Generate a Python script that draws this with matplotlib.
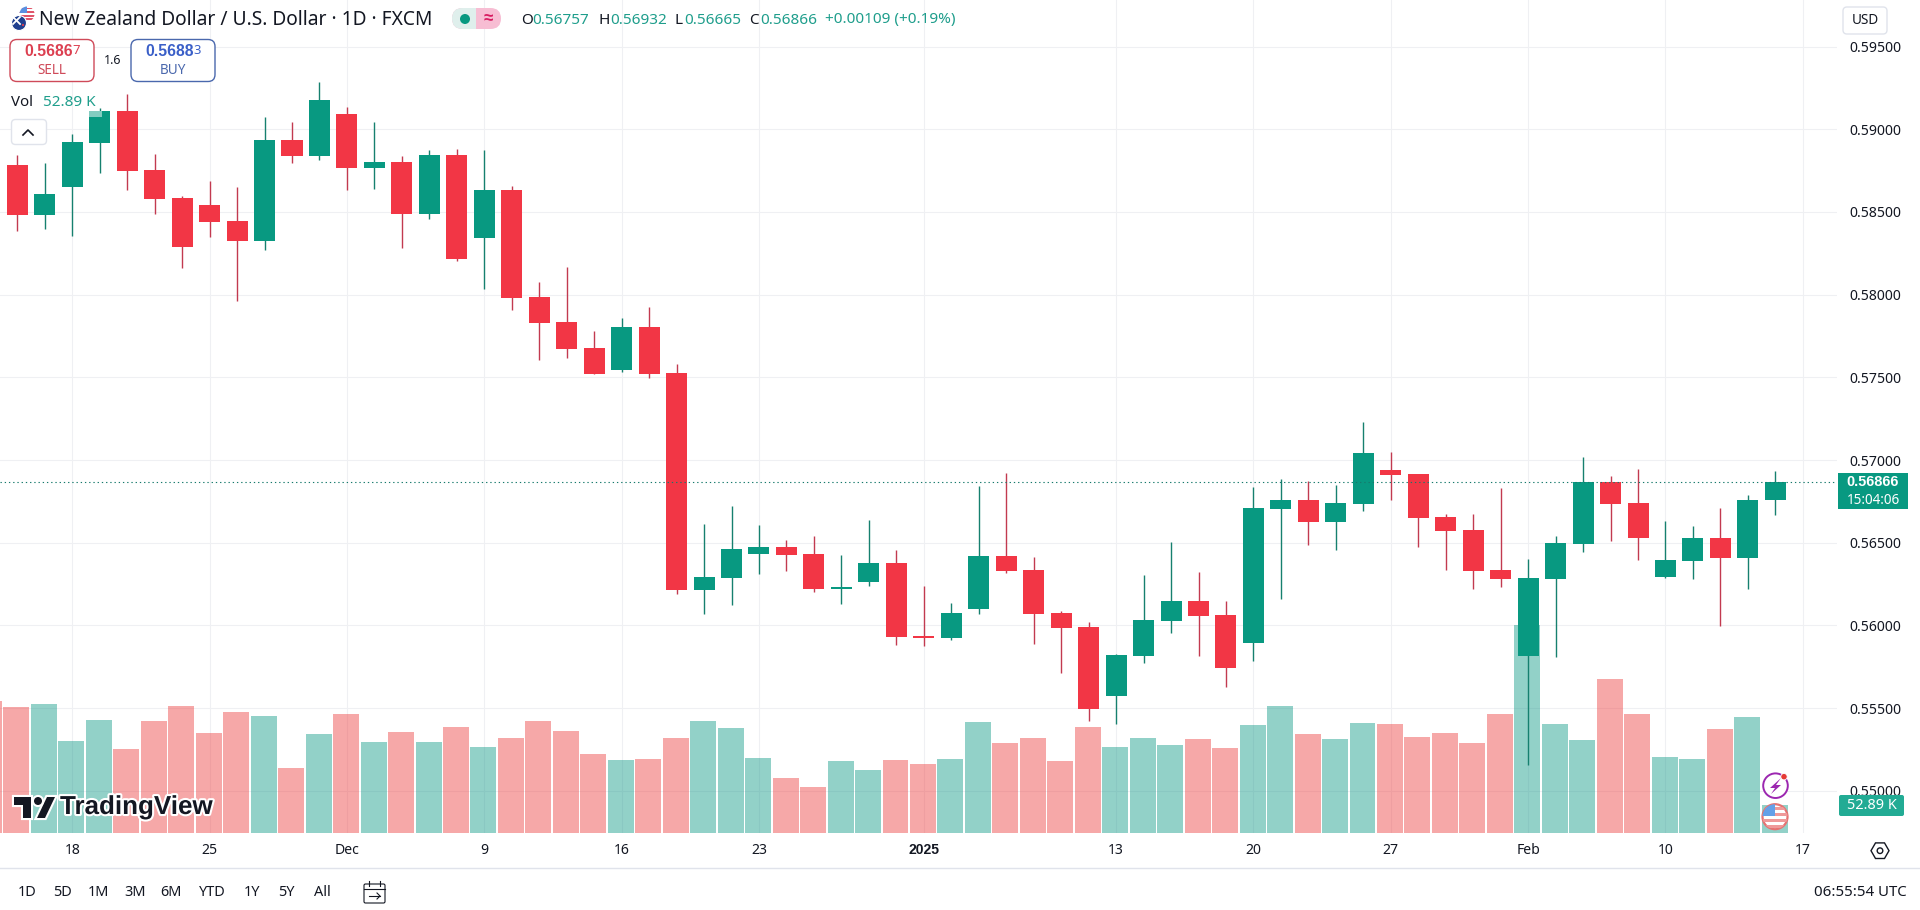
import numpy as np
import matplotlib
matplotlib.use('Agg')
import matplotlib.pyplot as plt
import matplotlib.patheffects as pe
from matplotlib.patches import Circle, FancyBboxPatch, Polygon, Rectangle, RegularPolygon

plt.rcParams['font.family'] = ['Noto Sans', 'DejaVu Sans']

opens = [0.58783, 0.58481, 0.58649, 0.58915, 0.59110, 0.58753, 0.58584, 0.58542, 0.58445, 0.58324,
         0.58934, 0.58837, 0.59092, 0.58765, 0.58801, 0.58487, 0.58843, 0.58342, 0.58631, 0.57986,
         0.57834, 0.57677, 0.57544, 0.57804, 0.57527, 0.56214, 0.56286, 0.56431, 0.56475, 0.56433,
         0.56220, 0.56262, 0.56376, 0.55936, 0.55924, 0.56099, 0.56421, 0.56334, 0.56075, 0.55990,
         0.55574, 0.55815, 0.56027, 0.56147, 0.56063, 0.55893, 0.56704, 0.56758, 0.56625, 0.56734,
         0.56940, 0.56914, 0.56655, 0.56577, 0.56334, 0.55815, 0.56280, 0.56491, 0.56866, 0.56740,
         0.56292, 0.56388, 0.56527, 0.56407, 0.56757]
highs = [0.58843, 0.58795, 0.58970, 0.59126, 0.59213, 0.58849, 0.58596, 0.58687, 0.58649, 0.59074,
         0.59044, 0.59285, 0.59134, 0.59044, 0.58837, 0.58873, 0.58879, 0.58873, 0.58655, 0.58076,
         0.58166, 0.57780, 0.57858, 0.57924, 0.57580, 0.56613, 0.56722, 0.56607, 0.56517, 0.56541,
         0.56425, 0.56637, 0.56457, 0.56238, 0.56135, 0.56842, 0.56922, 0.56414, 0.56087, 0.56021,
         0.55827, 0.56304, 0.56505, 0.56322, 0.56147, 0.56836, 0.56884, 0.56872, 0.56848, 0.57227,
         0.57048, 0.56918, 0.56674, 0.56674, 0.56830, 0.56401, 0.56539, 0.57018, 0.56903, 0.56945,
         0.56629, 0.56601, 0.56710, 0.56788, 0.56932]
lows = [0.58384, 0.58396, 0.58354, 0.58734, 0.58631, 0.58487, 0.58161, 0.58348, 0.57962, 0.58270,
        0.58795, 0.58813, 0.58631, 0.58637, 0.58282, 0.58457, 0.58204, 0.58034, 0.57907, 0.57605,
        0.57617, 0.57518, 0.57532, 0.57496, 0.56190, 0.56068, 0.56122, 0.56310, 0.56328, 0.56202,
        0.56129, 0.56238, 0.55881, 0.55875, 0.55912, 0.56069, 0.56316, 0.55887, 0.55713, 0.55424,
        0.55406, 0.55773, 0.55954, 0.55815, 0.55628, 0.55785, 0.56160, 0.56487, 0.56455, 0.56692,
        0.56758, 0.56475, 0.56334, 0.56222, 0.56232, 0.55157, 0.55809, 0.56443, 0.56509, 0.56395,
        0.56288, 0.56280, 0.55996, 0.56220, 0.56665]
closes = [0.58481, 0.58608, 0.58921, 0.59110, 0.58747, 0.58578, 0.58288, 0.58439, 0.58324, 0.58934,
          0.58837, 0.59176, 0.58765, 0.58801, 0.58487, 0.58843, 0.58216, 0.58631, 0.57980, 0.57828,
          0.57671, 0.57520, 0.57804, 0.57520, 0.56216, 0.56292, 0.56463, 0.56475, 0.56425, 0.56220,
          0.56232, 0.56376, 0.55930, 0.55924, 0.56075, 0.56421, 0.56328, 0.56069, 0.55984, 0.55496,
          0.55821, 0.56033, 0.56147, 0.56057, 0.55743, 0.56710, 0.56758, 0.56625, 0.56740, 0.57042,
          0.56908, 0.56649, 0.56571, 0.56328, 0.56280, 0.56286, 0.56497, 0.56866, 0.56734, 0.56527,
          0.56394, 0.56527, 0.56407, 0.56758, 0.56866]
# thousands, the first one belongs to the bar cut off at the left edge
volumes = [251, 240, 246, 175, 215, 159, 213, 242, 190, 230, 223,
           124, 188, 227, 173, 192, 173, 201, 164, 180, 213,
           194, 150, 138, 140, 180, 213, 199, 143, 105, 87,
           136, 119, 138, 131, 140, 211, 171, 180, 136, 201,
           164, 180, 168, 178, 161, 206, 242, 189, 178, 210,
           207, 182, 190, 171, 227, 397, 207, 177, 293, 227,
           144, 141, 198, 221, 52.89]

price_ticks = [0.55, 0.555, 0.56, 0.565, 0.57, 0.575, 0.58, 0.585, 0.59, 0.595]
date_ticks = [2, 7, 12, 17, 22, 27, 33, 40, 45, 50, 55, 60, 65]
date_labels = ['18', '25', 'Dec', '9', '16', '23', '2025', '13', '20', '27', 'Feb', '10', '17']
last_price = 0.56866

RED = '#f23645'
GREEN = '#089981'
VOL_RED = '#ed3e3e'
VOL_GREEN = '#0f9987'
WICK_RED = '#c23a50'
WICK_GREEN = '#16806f'
TEXT = '#131722'
GREEN_TEXT = '#1f9e8c'
GRID = '#eff0f3'
BOLD_FONT = ['Liberation Sans', 'DejaVu Sans']


def draw_candles(ax):
    x = np.arange(len(opens))
    o = np.array(opens)
    c = np.array(closes)
    up = c >= o
    colors = [GREEN if u else RED for u in up]
    wicks = [WICK_GREEN if u else WICK_RED for u in up]
    ax.vlines(x, lows, highs, colors=wicks, linewidth=1.0, zorder=3)
    ax.bar(x, np.abs(c - o), bottom=np.minimum(o, c), width=0.765, color=colors, linewidth=0, zorder=4)


def draw_volume(ax):
    x = np.arange(-1, len(opens))
    up = [False] + [c >= o for o, c in zip(opens, closes)]
    colors = [VOL_GREEN if u else VOL_RED for u in up]
    heights = np.array(volumes) / 1590.0
    ax.bar(x - 0.03, heights, width=0.945, color=colors, alpha=0.45, linewidth=0,
           transform=ax.get_xaxis_transform(), zorder=2)


def rounded(ui, x0, y0, x1, y1, radius, face='white', edge='none', lw=1.0, z=5):
    box = FancyBboxPatch((x0, y0), x1 - x0, y1 - y0, boxstyle='round,pad=0,rounding_size=%g' % radius,
                         facecolor=face, edgecolor=edge, linewidth=lw, zorder=z)
    ui.add_patch(box)


def label(ui, x, y, s, px=14, color=TEXT, ha='left', weight='normal', z=6):
    t = ui.text(x, y, s, fontsize=px * 0.72, color=color, ha=ha, va='center', fontweight=weight, zorder=z)
    if weight == 'bold':
        t.set_family(BOLD_FONT)
    return t


def draw_flags(ui):
    us = Circle((27, 14), 7.5, facecolor='white', edgecolor='none', zorder=5)
    ui.add_patch(us)
    for k in range(4):
        r = Rectangle((19, 7.5 + k * 3.6), 16, 1.8, facecolor='#e0556a', edgecolor='none', zorder=5)
        ui.add_patch(r)
        r.set_clip_path(us)
    canton = Rectangle((19, 6), 8, 7, facecolor='#5a8fe0', edgecolor='none', zorder=5)
    ui.add_patch(canton)
    canton.set_clip_path(us)
    nz = Circle((19, 23), 7.5, facecolor='#1f3f8f', edgecolor='white', linewidth=0.8, zorder=6)
    ui.add_patch(nz)
    ui.plot([13, 20], [17, 24], color='white', lw=1.3, zorder=7)
    ui.plot([20, 13], [17, 24], color='white', lw=1.3, zorder=7)
    ui.add_patch(Circle((23, 25), 1.1, facecolor='#e04050', edgecolor='none', zorder=7))


def draw_header(ui):
    draw_flags(ui)
    label(ui, 39, 20, 'New Zealand Dollar / U.S. Dollar · 1D · FXCM', px=19.2)

    # market status pill
    pill = FancyBboxPatch((452, 8), 49, 21, boxstyle='round,pad=0,rounding_size=10.5',
                          facecolor='#f7bdd3', edgecolor='none', zorder=5)
    ui.add_patch(pill)
    left = Rectangle((452, 8), 24, 21, facecolor='#dfefec', edgecolor='none', zorder=5)
    ui.add_patch(left)
    left.set_clip_path(pill)
    ui.add_patch(Circle((465, 19), 5, facecolor=GREEN, edgecolor='none', zorder=6))
    label(ui, 488, 19, '≈', px=17, color='#d81b60', ha='center', weight='bold')

    for x, head, value in [(521, 'O', '0.56757'), (598.5, 'H', '0.56932'),
                           (675, 'L', '0.56665'), (749, 'C', '0.56866')]:
        label(ui, x, 20, head, px=15.3)
        label(ui, x + {'O': 11.5, 'H': 11.5, 'L': 9, 'C': 11}[head], 20, value, px=15.3, color=GREEN_TEXT)
    label(ui, 825, 20, '+0.00109 (+0.19%)', px=15.3, color=GREEN_TEXT)

    # sell / buy boxes
    rounded(ui, 10, 39.5, 94, 81.5, 7, edge='#cf4a59', lw=1.0)
    label(ui, 24, 52, '0.5686', px=15.8, color='#dc3f50', weight='bold')
    label(ui, 72.5, 51, '7', px=13, color='#dc3f50')
    label(ui, 52, 70, 'SELL', px=13.5, color='#cf4a59', ha='center')
    label(ui, 113, 60, '1.6', px=12.5, ha='center')
    rounded(ui, 131, 39.5, 215, 81.5, 7, edge='#4a68ad', lw=1.0)
    label(ui, 145, 52, '0.5688', px=15.8, color='#3a5fc8', weight='bold')
    label(ui, 193.5, 51, '3', px=13, color='#3a5fc8')
    label(ui, 173, 70, 'BUY', px=13.5, color='#4a68ad', ha='center')

    # volume legend
    ui.add_patch(Rectangle((89, 111), 13, 6, facecolor='white', alpha=0.5, edgecolor='none', zorder=5))
    label(ui, 11, 102, 'Vol', px=15)
    label(ui, 43, 102, '52.89 K', px=15.3, color=GREEN_TEXT)
    rounded(ui, 11.5, 119.5, 46.5, 144.5, 4, edge='#e0e3eb', lw=1.0)
    ui.plot([23, 28, 33], [135, 130, 135], color=TEXT, lw=1.2, zorder=6)

    # currency button
    rounded(ui, 1843, 7, 1887, 34, 4, edge='#e0e3eb', lw=1.0)
    label(ui, 1865, 20, 'USD', px=13.5, ha='center')


def draw_logo(ui):
    halo = [pe.withStroke(linewidth=3, foreground='white')]
    parts = [Polygon([(14, 797), (31, 797), (31, 818), (23, 818), (23, 805), (14, 805)], closed=True),
             Polygon([(47, 797), (55, 797), (45, 818), (37, 818)], closed=True),
             Circle((38, 801), 4)]
    for p in parts:
        p.set_facecolor('#131722')
        p.set_edgecolor('none')
        p.set_path_effects(halo)
        p.set_zorder(6)
        ui.add_patch(p)
    t = label(ui, 60, 807, 'TradingView', px=26, weight='bold')
    t.set_path_effects(halo)


def draw_price_tags(ui):
    ui.add_patch(Rectangle((1838, 473), 70, 36, facecolor=GREEN, edgecolor='none', zorder=5))
    label(ui, 1873, 482.5, '0.56866', px=14.5, color='white', ha='center', weight='bold')
    label(ui, 1873, 500, '15:04:06', px=13.5, color='white', ha='center')
    rounded(ui, 1839, 795, 1904, 816, 2, face='#22ab94')
    label(ui, 1871.5, 805.5, '52.89 K', px=14.5, color='white', ha='center')


def draw_icons(ui):
    ui.add_patch(Circle((1775.5, 785.7), 12.3, facecolor='white', edgecolor='#9c27b0', linewidth=1.4, zorder=6))
    ui.add_patch(Polygon([(1781, 778), (1770, 788), (1775, 788), (1771, 794), (1781, 785), (1776, 785)],
                         closed=True, facecolor='#9c27b0', edgecolor='none', zorder=7))
    ui.add_patch(Circle((1784, 776.7), 3.2, facecolor='#e53935', edgecolor='white', linewidth=0.6, zorder=8))

    ring = Circle((1775, 816.7), 12.5, facecolor='white', edgecolor='#e57373', linewidth=1.6, zorder=6)
    ui.add_patch(ring)
    for k in range(4):
        r = Rectangle((1762, 807 + k * 6), 26, 3, facecolor='#ef9a9a', edgecolor='none', zorder=7)
        ui.add_patch(r)
        r.set_clip_path(ring)
    canton = Rectangle((1762, 804), 13, 12, facecolor='#64a0e8', edgecolor='none', zorder=7)
    ui.add_patch(canton)
    canton.set_clip_path(ring)


def draw_footer(ui):
    ui.plot([0, 1920], [868, 868], color='#e0e3eb', lw=1.0, zorder=5)
    for x, s in [(27, '1D'), (62.5, '5D'), (98, '1M'), (135, '3M'), (171, '6M'),
                 (212, 'YTD'), (252, '1Y'), (286.5, '5Y'), (322, 'All')]:
        label(ui, x, 892.5, s, px=14.5, ha='center')
    # calendar icon
    rounded(ui, 364, 884, 385, 903, 1.5, face='none', edge=TEXT, lw=0.8)
    ui.plot([364, 385], [889, 889], color=TEXT, lw=0.8, zorder=6)
    ui.plot([369, 369], [881, 886], color=TEXT, lw=0.8, zorder=6)
    ui.plot([380, 380], [881, 886], color=TEXT, lw=0.8, zorder=6)
    ui.plot([369, 380], [896, 896], color=TEXT, lw=0.8, zorder=6)
    ui.plot([377, 380, 377], [893, 896, 899], color=TEXT, lw=0.8, zorder=6)
    label(ui, 1907, 892.5, '06:55:54 UTC', px=15, ha='right')
    # settings icon
    ui.add_patch(RegularPolygon((1880, 850.7), 6, radius=9, orientation=np.pi / 2, facecolor='none',
                                edgecolor=TEXT, linewidth=1.0, zorder=6))
    ui.add_patch(Circle((1880, 850.7), 2.8, facecolor='none', edgecolor=TEXT, linewidth=1.0, zorder=6))


def main():
    fig = plt.figure(figsize=(19.2, 9.1), dpi=100)
    fig.patch.set_facecolor('white')

    ax = fig.add_axes([0, (910 - 832.7) / 910, 1837 / 1920, 832.7 / 910])
    ax.set_axisbelow(True)
    draw_volume(ax)
    draw_candles(ax)
    ax.axhline(last_price, color='#167a6c', linewidth=0.8, linestyle=(0, (1.2, 2.6)), zorder=5)

    ax.set_xlim(-17.3 / 27.47, (1837 - 17.3) / 27.47)
    ax.set_ylim(0.54746, 0.59782)
    ax.yaxis.tick_right()
    ax.set_yticks(price_ticks)
    ax.set_yticklabels(['%.5f' % p for p in price_ticks])
    ax.set_xticks(date_ticks)
    ax.set_xticklabels(date_labels)
    ax.tick_params(axis='both', length=0, labelsize=10.1, labelcolor=TEXT)
    ax.tick_params(axis='y', pad=8.6)
    ax.tick_params(axis='x', pad=7.5)
    for tick in ax.get_xticklabels():
        if tick.get_text() == '2025':
            tick.set_family(BOLD_FONT)
            tick.set_fontweight('bold')
    ax.grid(True, color=GRID, linewidth=0.8)
    for side in ax.spines.values():
        side.set_visible(False)

    ui = fig.add_axes([0, 0, 1, 1])
    ui.set_xlim(0, 1920)
    ui.set_ylim(910, 0)
    ui.axis('off')
    ui.patch.set_visible(False)

    draw_header(ui)
    draw_logo(ui)
    draw_price_tags(ui)
    draw_icons(ui)
    draw_footer(ui)

    fig.savefig('out.png', dpi=100)


if __name__ == "__main__":
    main()
